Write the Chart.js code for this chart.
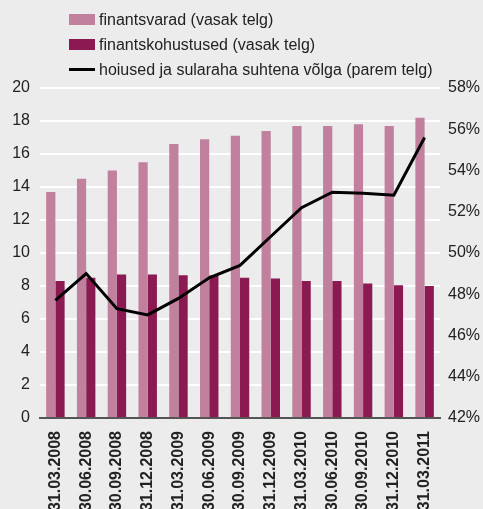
<!DOCTYPE html>
<html>
<head>
<meta charset="utf-8">
<script src="https://cdn.jsdelivr.net/npm/chart.js@4"></script>
<style>
  html, body { margin: 0; padding: 0; background: #ebeceb; }
  #wrap { position: relative; width: 483px; height: 509px; overflow: hidden; }
  #legend { position: absolute; left: 69px; top: 7px; font-family: "Liberation Sans", Arial, sans-serif; font-size: 16px; color: #222; }
  #legend div { height: 25px; display: flex; align-items: center; }
  #legend span.box { display: inline-block; width: 26px; height: 11px; margin-right: 4px; }
  #legend span.ln { display: inline-block; width: 26px; height: 3px; margin-right: 4px; background: #000; }
</style>
</head>
<body>
<div id="wrap">
  <canvas id="chart" width="483" height="509"></canvas>
  <div id="legend"></div>
</div>
<script>
// andmed
const labels = ['31.03.2008', '30.06.2008', '30.09.2008', '31.12.2008', '31.03.2009', '30.06.2009',
  '30.09.2009', '31.12.2009', '31.03.2010', '30.06.2010', '30.09.2010', '31.12.2010', '31.03.2011'];
const finantsvarad = [13.7, 14.5, 15.0, 15.5, 16.6, 16.9, 17.1, 17.4, 17.7, 17.7, 17.8, 17.7, 18.2];
const finantskohustused = [8.3, 8.5, 8.7, 8.7, 8.65, 8.65, 8.5, 8.45, 8.3, 8.3, 8.15, 8.05, 8.0];
const hoiusedVolga = [47.7, 49.0, 47.3, 47.0, 47.8, 48.8, 49.4, 50.8, 52.2, 52.95, 52.9, 52.8, 55.6];
const leftTicks = [0, 20, 2];   // min, max, samm
const rightTicks = [42, 58, 2];

const fontFamily = "'Liberation Sans', Arial, sans-serif";

const ctx = document.getElementById('chart').getContext('2d');
const chart = new Chart(ctx, {
  type: 'bar',
  data: {
    labels: labels,
    datasets: [
      {
        label: 'finantsvarad (vasak telg)',
        data: finantsvarad,
        backgroundColor: '#c0809e',
        yAxisID: 'y',
        order: 1,
        barPercentage: 1,
        categoryPercentage: 0.6
      },
      {
        label: 'finantskohustused (vasak telg)',
        data: finantskohustused,
        backgroundColor: '#8b1a52',
        yAxisID: 'y',
        order: 1,
        barPercentage: 1,
        categoryPercentage: 0.6
      },
      {
        type: 'line',
        label: 'hoiused ja sularaha suhtena võlga (parem telg)',
        data: hoiusedVolga,
        borderColor: '#000',
        borderWidth: 3,
        pointRadius: 0,
        tension: 0,
        yAxisID: 'y1',
        order: 0
      }
    ]
  },
  options: {
    responsive: false,
    animation: false,
    layout: { padding: { top: 88, right: 1, left: 2, bottom: 0 } },
    plugins: {
      legend: { display: false },
      tooltip: { enabled: false }
    },
    scales: {
      x: {
        grid: { display: false },
        border: { display: true, color: '#555', width: 2 },
        afterFit: scale => { scale.height = 91; },
        ticks: {
          color: '#222',
          minRotation: 90,
          maxRotation: 90,
          padding: 5,
          font: { family: fontFamily, size: 16, weight: 'bold' }
        }
      },
      y: {
        position: 'left',
        min: leftTicks[0],
        max: leftTicks[1],
        grid: { color: '#ffffff', lineWidth: 2, drawTicks: false },
        border: { display: false },
        afterFit: scale => { scale.width = 38; },
        ticks: {
          stepSize: leftTicks[2],
          color: '#222',
          padding: 10,
          font: { family: fontFamily, size: 16 }
        }
      },
      y1: {
        position: 'right',
        min: rightTicks[0],
        max: rightTicks[1],
        grid: { display: false, drawTicks: false },
        border: { display: false },
        afterFit: scale => { scale.width = 42; },
        ticks: {
          stepSize: rightTicks[2],
          color: '#222',
          padding: 8,
          font: { family: fontFamily, size: 16 },
          callback: v => v + '%'
        }
      }
    }
  }
});

// legend HTML-ina
const legendEl = document.getElementById('legend');
chart.data.datasets.forEach(ds => {
  const row = document.createElement('div');
  const mark = document.createElement('span');
  if (ds.type === 'line') {
    mark.className = 'ln';
  } else {
    mark.className = 'box';
    mark.style.background = ds.backgroundColor;
  }
  row.appendChild(mark);
  row.appendChild(document.createTextNode(ds.label));
  legendEl.appendChild(row);
});
</script>
</body>
</html>
